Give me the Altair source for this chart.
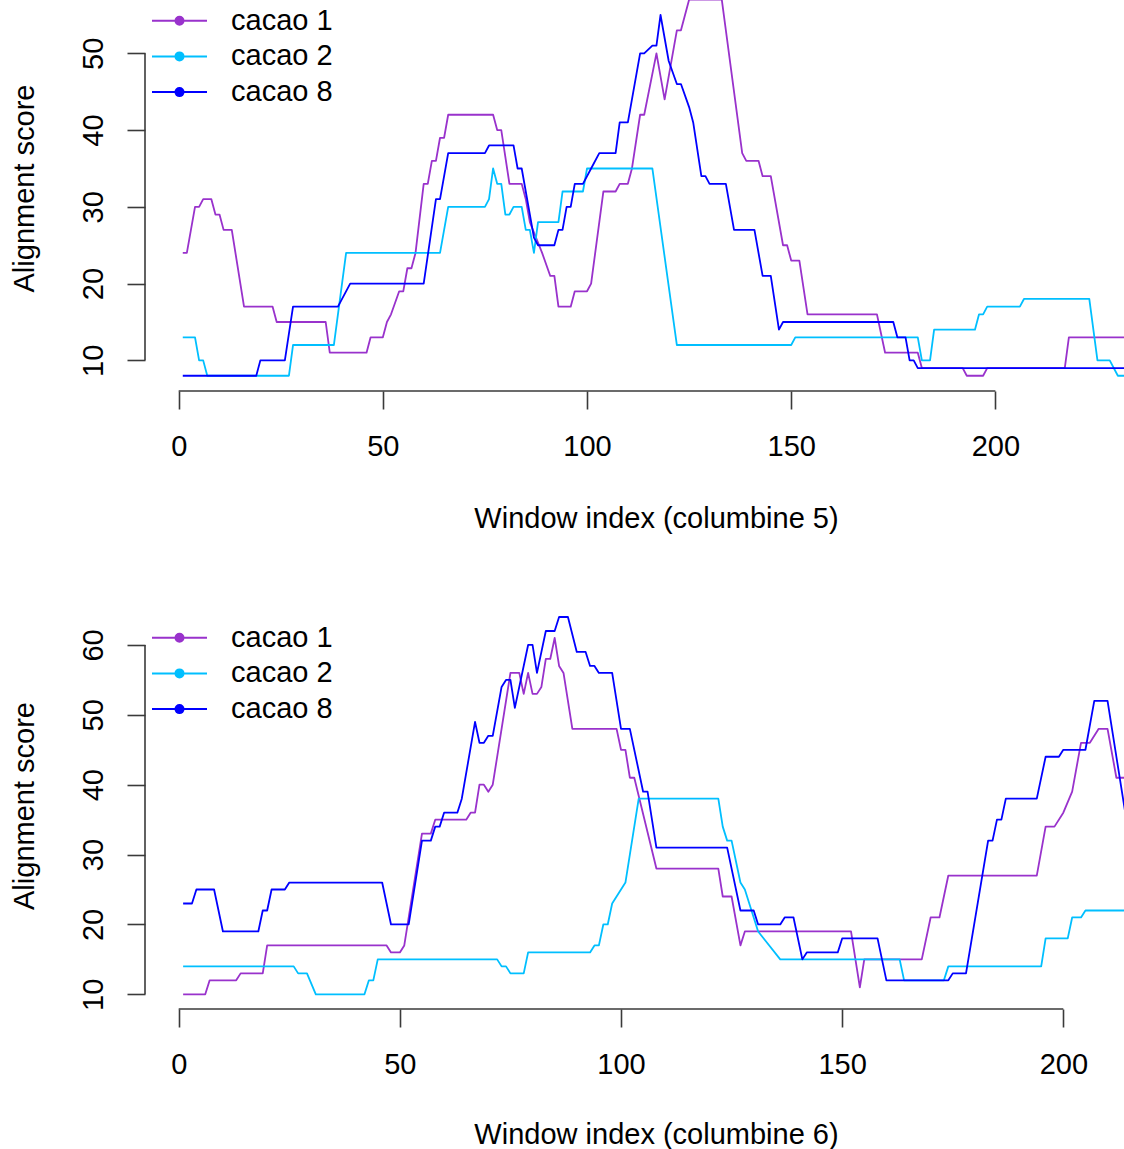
import altair as alt
import pandas as pd

SERIES = ["cacao 1", "cacao 2", "cacao 8"]
COLORS = ["#9932CC", "#00BFFF", "#0000FF"]

X_TICKS = [0, 50, 100, 150, 200]
Y_TICKS_TOP = [10, 20, 30, 40, 50]
Y_TICKS_BOTTOM = [10, 20, 30, 40, 50, 60]

X_TITLE_TOP = "Window index (columbine 5)"
X_TITLE_BOTTOM = "Window index (columbine 6)"
Y_TITLE = "Alignment score"

# ---- top panel (columbine 5): polyline vertices ----
TOP_C1_X = [1, 2, 3, 4, 5, 6, 8, 9, 10, 11, 13, 16, 23, 24, 36, 37, 46, 47, 50, 51,
            52, 54, 55, 56, 57, 58, 60, 61, 62, 63, 64, 65, 66, 77, 78, 79, 81, 84, 85, 86,
            89, 91, 92, 93, 96, 97, 100, 101, 104, 107, 108, 110, 111, 113, 114, 117, 119, 122, 123, 125,
            133, 138, 139, 142, 143, 145, 148, 149, 150, 152, 154, 171, 173, 181, 182, 192, 193, 197, 198, 217,
            218, 232]
TOP_C1_Y = [24, 24, 27, 30, 30, 31, 31, 29, 29, 27, 27, 17, 17, 15, 15, 11, 11, 13, 13, 15,
            16, 19, 19, 22, 22, 24, 33, 33, 36, 36, 39, 39, 42, 42, 40, 40, 33, 33, 31, 28,
            24, 21, 21, 17, 17, 19, 19, 20, 32, 32, 33, 33, 35, 42, 42, 50, 44, 53, 53, 57,
            57, 37, 36, 36, 34, 34, 25, 25, 23, 23, 16, 16, 11, 11, 9, 9, 8, 8, 9, 9,
            13, 13]

TOP_C2_X = [1, 4, 5, 6, 7, 27, 28, 38, 41, 64, 66, 75, 76, 77, 78, 79, 80, 81, 82, 84,
            85, 86, 87, 88, 93, 94, 99, 100, 116, 122, 150, 151, 181, 182, 184, 185, 195, 196, 197, 198,
            206, 207, 223, 225, 228, 230, 232]
TOP_C2_Y = [13, 13, 10, 10, 8, 8, 12, 12, 24, 24, 30, 30, 31, 35, 33, 33, 29, 29, 30, 30,
            27, 27, 24, 28, 28, 32, 32, 35, 35, 12, 12, 13, 13, 10, 10, 14, 14, 16, 16, 17,
            17, 18, 18, 10, 10, 8, 8]

TOP_C8_X = [1, 19, 20, 26, 28, 39, 42, 60, 63, 64, 66, 75, 76, 82, 83, 84, 87, 88, 92, 93,
            94, 95, 96, 97, 99, 101, 103, 107, 108, 110, 113, 114, 116, 117, 118, 120, 122, 123, 125, 126,
            128, 129, 130, 134, 136, 141, 143, 145, 147, 148, 175, 176, 178, 179, 180, 181, 232]
TOP_C8_Y = [8, 8, 10, 10, 17, 17, 20, 20, 31, 31, 37, 37, 38, 38, 35, 35, 26, 25, 25, 27,
            27, 30, 30, 33, 33, 35, 37, 37, 41, 41, 50, 50, 51, 51, 55, 49, 46, 46, 43, 41,
            34, 34, 33, 33, 27, 27, 21, 21, 14, 15, 15, 13, 13, 10, 10, 9, 9]

# ---- bottom panel (columbine 6) ----
BOT_C1_X = [1, 6, 7, 13, 14, 19, 20, 47, 48, 50, 51, 55, 57, 58, 65, 66, 67, 68, 69, 70,
            71, 75, 77, 78, 79, 80, 81, 82, 83, 84, 85, 86, 87, 89, 99, 100, 101, 102, 103, 108,
            122, 123, 125, 127, 128, 152, 154, 155, 168, 170, 172, 174, 194, 196, 198, 200, 202, 204, 206, 208,
            210, 212, 214]
BOT_C1_Y = [10, 10, 12, 12, 13, 13, 17, 17, 16, 16, 17, 33, 33, 35, 35, 36, 36, 40, 40, 39,
            40, 56, 56, 53, 56, 53, 53, 54, 58, 58, 61, 57, 56, 48, 48, 45, 45, 41, 41, 28,
            28, 24, 24, 17, 19, 19, 11, 15, 15, 21, 21, 27, 27, 34, 34, 36, 39, 46, 46, 48,
            48, 41, 41]

BOT_C2_X = [1, 26, 27, 29, 31, 42, 43, 44, 45, 72, 73, 74, 75, 78, 79, 93, 94, 95, 96, 97,
            98, 101, 104, 122, 123, 124, 125, 127, 128, 131, 136, 163, 164, 173, 174, 195, 196, 201, 202, 204,
            205, 214]
BOT_C2_Y = [14, 14, 13, 13, 10, 10, 12, 12, 15, 15, 14, 14, 13, 13, 16, 16, 17, 17, 20, 20,
            23, 26, 38, 38, 34, 32, 32, 26, 25, 19, 15, 15, 12, 12, 14, 14, 18, 18, 21, 21,
            22, 22]

BOT_C8_X = [1, 3, 4, 8, 10, 18, 19, 20, 21, 24, 25, 46, 48, 52, 55, 57, 58, 59, 60, 63,
            64, 67, 68, 69, 70, 71, 73, 74, 75, 76, 79, 80, 81, 83, 85, 86, 88, 90, 92, 93,
            94, 95, 98, 100, 102, 105, 106, 108, 124, 127, 130, 131, 136, 137, 139, 141, 142, 149, 150, 158,
            160, 174, 175, 178, 183, 184, 185, 186, 187, 194, 196, 199, 200, 205, 207, 210, 214]
BOT_C8_Y = [23, 23, 25, 25, 19, 19, 22, 22, 25, 25, 26, 26, 20, 20, 32, 32, 34, 34, 36, 36,
            38, 49, 46, 46, 47, 47, 54, 55, 55, 51, 60, 60, 56, 62, 62, 64, 64, 59, 59, 57,
            57, 56, 56, 48, 48, 39, 39, 31, 31, 22, 22, 20, 20, 21, 21, 15, 16, 16, 18, 18,
            12, 12, 13, 13, 32, 32, 35, 35, 38, 38, 44, 44, 45, 45, 52, 52, 36]

FONT = "Liberation Sans"
AXIS_COLOR = "#3a3a3a"
FS = 29


def make_df(xs_list, ys_list):
    rows = []
    for name, xs, ys in zip(SERIES, xs_list, ys_list):
        for x, y in zip(xs, ys):
            rows.append({"series": name, "x": x, "y": y})
    return pd.DataFrame(rows)


# legend glyph: a 55px line with a solid dot in the middle (concentric rings fill the dot)
SYMBOL_SIDE = 27          # sqrt(symbolSize)
_unit = SYMBOL_SIDE / 2   # pixels per path unit
_hl = 27.5 / _unit        # half line length in path units
_path = f"M{-_hl:.4f},0L{_hl:.4f},0"
for _r in [4, 3, 2, 1]:
    u = _r / _unit
    _path += f"M{u:.4f},0A{u:.4f},{u:.4f} 0 1,1 {-u:.4f},0A{u:.4f},{u:.4f} 0 1,1 {u:.4f},0"
LEGEND_PATH = _path


def panel(df, xdom, ydom, yticks, width, height, xtitle, ytitle_y, xtitle_y, legend_y):
    xscale = alt.Scale(domain=xdom, nice=False, zero=False)
    yscale = alt.Scale(domain=ydom, nice=False, zero=False)
    x_axis = alt.Axis(
        values=X_TICKS, domain=False, grid=False, tickSize=18, tickWidth=1.6,
        tickColor=AXIS_COLOR, labelFont=FONT, labelFontSize=FS, labelColor="black",
        labelBaseline="alphabetic", labelAlign="center", labelPadding=46,
        labelFlush=False, labelOverlap=False,
        title=xtitle, titleFont=FONT, titleFontSize=FS, titleFontWeight="normal",
        titleColor="black", titleX=511, titleY=xtitle_y, titleAlign="center",
        titleBaseline="alphabetic", titleAngle=0,
    )
    y_axis = alt.Axis(
        values=yticks, domain=False, grid=False, tickSize=18, tickWidth=1.6,
        tickColor=AXIS_COLOR, labelFont=FONT, labelFontSize=FS, labelColor="black",
        labelAngle=270, labelAlign="center", labelBaseline="alphabetic", labelPadding=24.5,
        labelFlush=False, labelOverlap=False,
        title=Y_TITLE, titleFont=FONT, titleFontSize=FS, titleFontWeight="normal",
        titleColor="black", titleAngle=270, titleX=-112, titleY=ytitle_y,
        titleAlign="center", titleBaseline="alphabetic",
    )
    x_enc = alt.X("x:Q", scale=xscale, axis=x_axis)
    y_enc = alt.Y("y:Q", scale=yscale, axis=y_axis)

    lines = alt.Chart(df).mark_line(strokeWidth=1.8, clip=True, strokeJoin="round").encode(
        x=x_enc,
        y=y_enc,
        color=alt.Color(
            "series:N",
            scale=alt.Scale(domain=SERIES, range=COLORS),
            legend=alt.Legend(
                title=None, orient="none", legendX=7, legendY=legend_y,
                symbolType=LEGEND_PATH, symbolSize=SYMBOL_SIDE ** 2, symbolStrokeWidth=2,
                symbolOffset=13, symbolOpacity=1,
                labelFont=FONT, labelFontSize=FS, labelColor="black",
                labelOffset=37, rowPadding=5.7, padding=0,
            ),
        ),
    )
    x_line = alt.Chart(pd.DataFrame({"x": [X_TICKS[0]], "x2": [X_TICKS[-1]]})).mark_rule(
        color=AXIS_COLOR, strokeWidth=1.6
    ).encode(x=x_enc, x2=alt.X2("x2:Q"), y=alt.datum(ydom[0]))
    y_line = alt.Chart(pd.DataFrame({"y": [yticks[0]], "y2": [yticks[-1]]})).mark_rule(
        color=AXIS_COLOR, strokeWidth=1.6
    ).encode(y=y_enc, y2=alt.Y2("y2:Q"), x=alt.datum(xdom[0]))

    return alt.layer(lines, x_line, y_line).properties(width=width, height=height)


top_df = make_df([TOP_C1_X, TOP_C2_X, TOP_C8_X], [TOP_C1_Y, TOP_C2_Y, TOP_C8_Y])
bot_df = make_df([BOT_C1_X, BOT_C2_X, BOT_C8_X], [BOT_C1_Y, BOT_C2_Y, BOT_C8_Y])

top = panel(top_df, [-8.25, 231.5], [6.01, 56.95], Y_TICKS_TOP, 979, 391,
            X_TITLE_TOP, 188, 136, 6.2)
bottom = panel(bot_df, [-7.62, 213.72], [7.9, 66.15], Y_TICKS_BOTTOM, 979, 407,
               X_TITLE_BOTTOM, 203.5, 134, 21.2)

chart = (
    alt.vconcat(top, bottom, spacing=211, bounds="flush")
    .resolve_scale(x="independent", y="independent", color="independent")
    .properties(padding={"left": 10, "top": 0, "right": 0, "bottom": 0}, background="white")
    .configure_view(stroke=None)
)

chart.save("out.html", embed_options={"renderer": "svg", "actions": False})
